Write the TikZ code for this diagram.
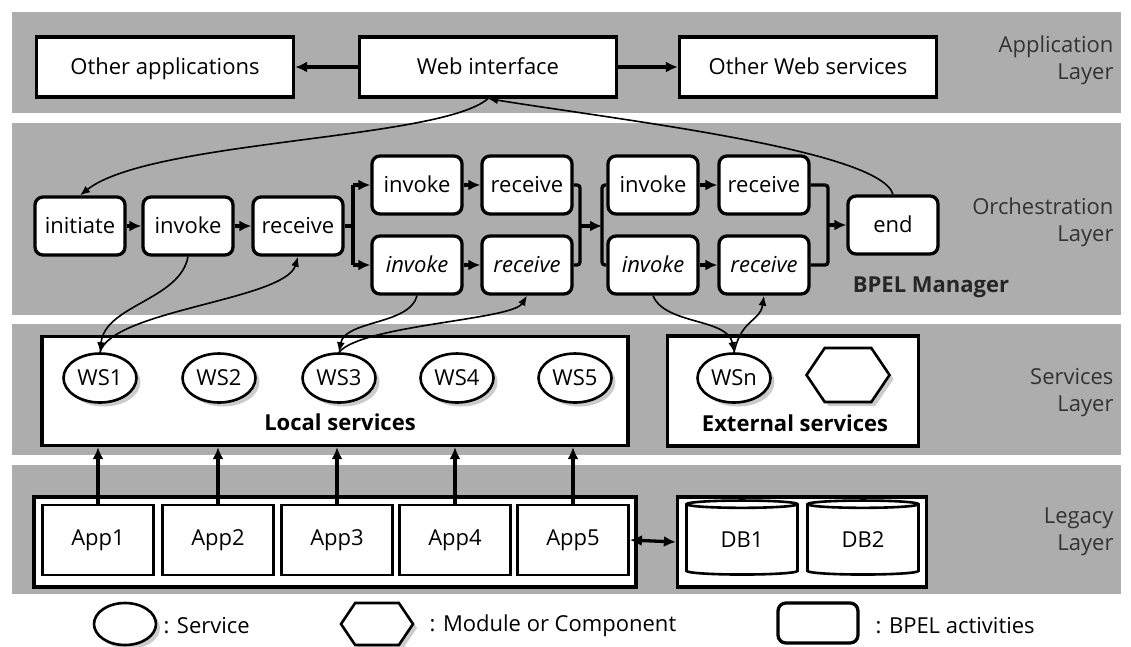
\documentclass[tikz,border=0pt]{standalone}
\usepackage{fontspec}
\setmainfont{Open Sans}
\usetikzlibrary{shapes.geometric,shapes.symbols,arrows.meta,shadows}

\begin{document}
\begin{tikzpicture}[x=1pt,y=-1pt,
  every node/.style={font=\fontsize{22}{27}\selectfont},
  band/.style={fill=black!32},
  outline/.style={draw=black, line width=3.3pt},
  appbox/.style={outline, fill=white, minimum width=257pt, minimum height=60pt, inner sep=0pt, text height=19pt, text depth=5pt},
  act/.style={outline, fill=white, rounded corners=8pt, minimum width=90pt, minimum height=58pt, inner sep=0pt, text height=19pt, text depth=5pt},
  shade/.style={drop shadow={shadow xshift=4pt, shadow yshift=-4pt, fill=black!40}},
  svc/.style={ellipse, draw, line width=2.6pt, fill=white, minimum width=73pt, minimum height=49pt, inner sep=0pt, shade},
  module/.style={signal, signal to=west and east, signal pointer angle=112, draw, line width=2.6pt, fill=white, minimum width=83pt, minimum height=54pt, inner sep=0pt, shade},
  appl/.style={outline, line width=2.8pt, fill=white, minimum width=111pt, minimum height=70pt, inner sep=0pt},
  db/.style={cylinder, shape border rotate=90, aspect=0.17, draw, line width=2.6pt, fill=white, minimum width=111pt, minimum height=74pt, inner sep=0pt},
  group/.style={outline, fill=white, inner sep=0pt},
  layer/.style={anchor=east, align=right, text=black!80},
  flow/.style={line width=3.3pt, rounded corners=3pt},
  arr/.style={line width=3.3pt, -{Latex[length=12pt,width=11pt]}},
  bothway/.style={line width=3.3pt, {Latex[length=12pt,width=11pt]}-{Latex[length=12pt,width=11pt]}},
  link/.style={line width=1.6pt, -{Latex[length=10pt,width=8pt]}},
]
\useasboundingbox (0,0) rectangle (1131,646);

% layer bands
\fill[band] (12,12) rectangle (1121,113);
\fill[band] (12,123) rectangle (1121,315);
\fill[band] (12,324) rectangle (1121,455);
\fill[band] (12,465) rectangle (1121,594);

% layer titles
\node[layer] (lapp) at (1117,60) {Application\\Layer};
\node[layer] (lorch) at (1117,222) {Orchestration\\Layer};
\node[layer] (lsvc) at (1117,393) {Services\\Layer};
\node[layer] (lleg) at (1117,532) {Legacy\\Layer};

% application layer
\node[appbox] (oapp) at (165,67) {Other applications};
\node[appbox] (web) at (488,67) {Web interface};
\node[appbox] (ows) at (808,67) {Other Web services};
\draw[arr] (web.west) -- (oapp.east);
\draw[arr] (web.east) -- (ows.west);

% orchestration layer: BPEL activities
\node[act] (init) at (80,226) {initiate};
\node[act] (inv) at (188,226) {invoke};
\node[act] (rec) at (298,226) {receive};
\node[act] (pinva) at (417,185) {invoke};
\node[act] (preca) at (527,185) {receive};
\node[act] (pinvb) at (417,265) {\itshape invoke};
\node[act] (precb) at (527,265) {\itshape receive};
\node[act] (qinva) at (653,185) {invoke};
\node[act] (qreca) at (764,185) {receive};
\node[act] (qinvb) at (653,265) {\itshape invoke};
\node[act] (qrecb) at (764,265) {\itshape receive};
\node[act] (fin) at (893,225) {end};
\node[font=\fontsize{22}{27}\selectfont\bfseries, text=black!85] (bpel) at (931,287) {BPEL Manager};

\draw[arr] (init) -- (inv);
\draw[arr] (inv) -- (rec);
\draw[arr] (pinva) -- (preca);
\draw[arr] (pinvb) -- (precb);
\draw[arr] (qinva) -- (qreca);
\draw[arr] (qinvb) -- (qrecb);

% fork / join brackets
\coordinate (forka) at (353,226);
\coordinate (joina) at (580,226);
\coordinate (forkb) at (602,226);
\coordinate (joinb) at (828,225);
\draw[flow] (rec.east) -- (forka);
\draw[flow] (forka |- pinva.west) -- (forka |- pinvb.west);
\draw[arr] (forka |- pinva.west) -- (pinva.west);
\draw[arr] (forka |- pinvb.west) -- (pinvb.west);
\draw[flow] (preca.east) -| (joina) |- (precb.east);
\draw[arr] (joina) -- (forkb);
\draw[flow] (qinva.west) -| (forkb) |- (qinvb.west);
\draw[flow] (qreca.east) -| (joinb) |- (qrecb.east);
\draw[arr] (joinb) -- (fin.west);

% services layer
\node[group, minimum width=586pt, minimum height=109pt] (local) at (335,391) {};
\node[group, minimum width=251pt, minimum height=110pt] (ext) at (793,391) {};
\node[svc] (ws1) at (100,378) {WS1};
\node[svc] (ws2) at (219,378) {WS2};
\node[svc] (ws3) at (339,378) {WS3};
\node[svc] (ws4) at (457,378) {WS4};
\node[svc] (ws5) at (575,378) {WS5};
\node[font=\fontsize{22}{27}\selectfont\bfseries] (localt) at (340,422) {Local services};
\node[svc] (wsn) at (734,378) {WSn};
\node[module] (modx) at (848,375) {};
\node[font=\fontsize{22}{27}\selectfont\bfseries] (extt) at (795,423) {External services};

% web interface and BPEL activity calls
\draw[link] (web.south) .. controls (440,140) and (150,140) .. (init.north);
\draw[link] (fin.north) .. controls (880,150) and (620,120) .. (web.south);
\draw[link] (inv.south) .. controls (180,300) and (105,305) .. (ws1.north);
\draw[link] (ws1.north) .. controls (112,310) and (285,300) .. (rec.south);
\draw[link] (pinvb.south) .. controls (410,325) and (345,320) .. (ws3.north);
\draw[link] (ws3.north) .. controls (362,325) and (512,320) .. (precb.south);
\draw[link] (qinvb.south) .. controls (665,325) and (728,318) .. (wsn.north);
\draw[link] (wsn.north) .. controls (742,318) and (760,322) .. (qrecb.south);

% legacy layer
\node[group, minimum width=602pt, minimum height=90pt] (legacy) at (335,542) {};
\node[group, minimum width=249pt, minimum height=90pt] (store) at (802,542) {};
\node[appl] (app1) at (98,540) {App1};
\node[appl] (app2) at (218,540) {App2};
\node[appl] (app3) at (337,540) {App3};
\node[appl] (app4) at (455,540) {App4};
\node[appl] (app5) at (573,540) {App5};
\node[db] (db1) at (742,540) {DB1};
\node[db] (db2) at (863,540) {DB2};
\foreach \a in {app1,app2,app3,app4,app5}
  \draw[arr] (\a.north) -- (\a.north |- local.south);
\draw[bothway] (app5.east) -- (store.west);

% legend
\node[svc, minimum width=62pt, minimum height=42pt] (keysvc) at (125,624) {};
\node[anchor=west] (keysvct) at (160,626) {: Service};
\node[module, minimum width=72pt, minimum height=42pt] (keymod) at (377,624) {};
\node[anchor=west] (keymodt) at (426,626) {: Module or Component};
\node[act, minimum width=80pt, minimum height=40pt] (keyact) at (818,623) {};
\node[anchor=west] (keyactt) at (872,626) {: BPEL activities};
\end{tikzpicture}
\end{document}
